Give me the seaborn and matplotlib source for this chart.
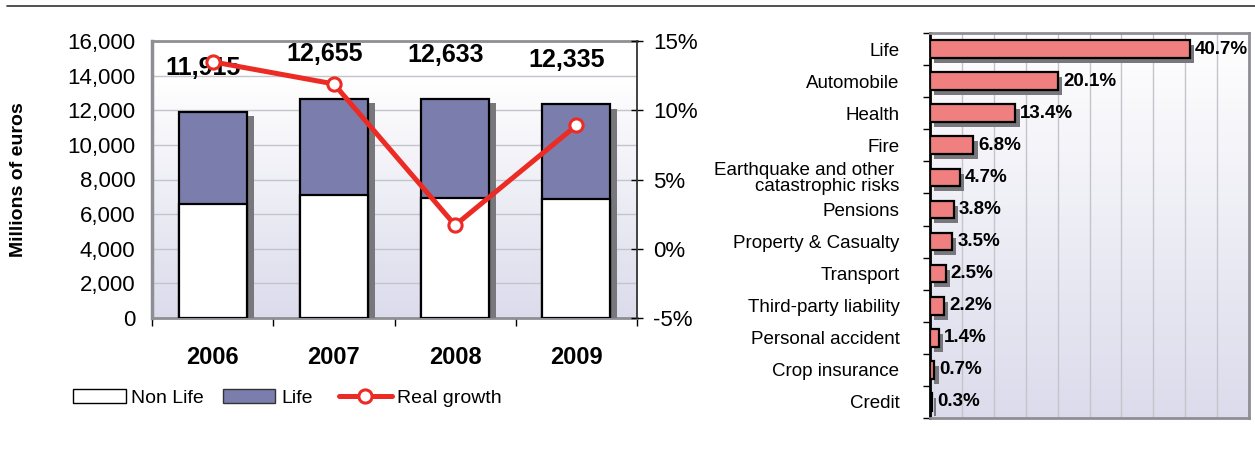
import numpy as np
import pandas as pd
import matplotlib
matplotlib.use("Agg")
import matplotlib.pyplot as plt
import matplotlib.patheffects as pe
from matplotlib.patches import Patch
from matplotlib.lines import Line2D
from matplotlib.ticker import FixedLocator
import seaborn as sns

# ---- data -------------------------------------------------------------
years = ["2006", "2007", "2008", "2009"]
total_premiums = [11915, 12655, 12633, 12335]
non_life_premiums = [6570, 7085, 6950, 6860]
real_growth = [13.5, 11.9, 1.7, 8.9]

business_lines = [
    "Life", "Automobile", "Health", "Fire",
    "Earthquake and other \ncatastrophic risks", "Pensions",
    "Property & Casualty", "Transport", "Third-party liability",
    "Personal accident", "Crop insurance", "Credit",
]
line_shares = [40.7, 20.1, 13.4, 6.8, 4.7, 3.8, 3.5, 2.5, 2.2, 1.4, 0.7, 0.3]

# ---- style ------------------------------------------------------------
sns.set_style("white")
plt.rcParams["font.family"] = ["Liberation Sans", "DejaVu Sans"]
plt.rcParams.update({"text.color": "black", "xtick.color": "black",
                     "ytick.color": "black", "axes.labelcolor": "black"})

LIFE = "#7b7eac"
RED = "#ec2b25"
PINK = "#f08080"
SHADOW = "#78787c"
SPINE_GREY = "#8e8e94"
GRID = "#c4c4cc"

W, H = 1255, 450
fig = plt.figure(figsize=(W / 100, H / 100), dpi=100)


def px_axes(x0, y0, x1, y1, **kw):
    return fig.add_axes([x0 / W, 1 - y1 / H, (x1 - x0) / W, (y1 - y0) / H], **kw)


def gradient_backdrop(x0, y0, x1, y1, white_from):
    """Pale lavender at the bottom fading to white at `white_from` (axes fraction)."""
    bg = px_axes(x0, y0, x1, y1, zorder=-1)
    t = np.linspace(0, 1, 256)
    w = np.clip(t / white_from, 0, 1)[:, None, None]
    lav = np.array([0.86, 0.86, 0.925])[None, None, :]
    img = lav + (1 - lav) * w
    bg.imshow(img, extent=[0, 1, 0, 1], origin="lower", aspect="auto",
              interpolation="bilinear")
    bg.axis("off")
    return bg


# ---- left panel: premiums and real growth ----------------------------
LX0, LY0, LX1, LY1 = 152, 41, 637, 318
gradient_backdrop(LX0, LY0, LX1, LY1, 0.875)
ax = px_axes(LX0, LY0, LX1, LY1)
ax.patch.set_visible(False)

df = pd.DataFrame({"year": years, "total": total_premiums,
                   "non_life": non_life_premiums})

sns.barplot(data=df, x="year", y="total", color=LIFE, saturation=1,
            width=0.56, edgecolor="black", linewidth=1.6, ax=ax, zorder=3)
for p in ax.patches:
    p.set_path_effects([pe.SimplePatchShadow(offset=(5, -3), shadow_rgbFace=SHADOW,
                                             alpha=1.0), pe.Normal()])
sns.barplot(data=df, x="year", y="non_life", color="white", saturation=1,
            width=0.56, edgecolor="black", linewidth=1.6, ax=ax, zorder=4)

ax.set_xlim(-0.5, 3.5)
ax.set_ylim(0, 16000)
ax.set_yticks(np.arange(0, 16001, 2000))
ax.set_yticklabels([f"{v:,}" for v in range(0, 16001, 2000)])
ax.yaxis.grid(True, color=GRID, lw=1)
ax.set_axisbelow(True)
ax.set_xlabel("")
ax.set_ylabel("")
ax.tick_params(axis="y", length=0, pad=12, labelsize=16)
ax.tick_params(axis="x", which="major", length=0, pad=20, labelsize=17)
for lab in ax.get_xticklabels():
    lab.set_fontweight("bold")
ax.xaxis.set_minor_locator(FixedLocator([-0.5, 0.5, 1.5, 2.5, 3.5]))
ax.tick_params(axis="x", which="minor", direction="out", length=6, width=1,
               color="black", bottom=True)
for side, lw in (("left", 2.5), ("top", 2), ("bottom", 2)):
    ax.spines[side].set_color(SPINE_GREY)
    ax.spines[side].set_linewidth(lw)
ax.spines["right"].set_visible(False)

label_y = [14450, 15250, 15200, 14900]
for i, (tot, ly) in enumerate(zip(total_premiums, label_y)):
    ax.text(i - 0.08, ly, f"{tot:,}", ha="center", va="center",
            fontsize=18, fontweight="bold", zorder=6)

ax2 = ax.twinx()
sns.lineplot(x=np.arange(len(years)), y=real_growth, ax=ax2, color=RED, lw=3.6,
             marker="o", markersize=9.5, markerfacecolor="white",
             markeredgecolor=RED, markeredgewidth=2.2, zorder=5)
ax2.set_xlim(-0.5, 3.5)
ax2.set_ylim(-5, 15)
ax2.set_yticks([-5, 0, 5, 10, 15])
ax2.set_yticklabels([f"{v}%" for v in (-5, 0, 5, 10, 15)])
ax2.set_ylabel("")
ax2.tick_params(axis="y", direction="inout", length=9, width=1, color="black",
                pad=7, labelsize=16)
for side in ("left", "top", "bottom"):
    ax2.spines[side].set_visible(False)
ax2.spines["right"].set_color("#333333")
ax2.spines["right"].set_linewidth(1.3)

fig.text(19 / W, 1 - 180 / H, "Millions of euros", rotation=90, ha="center",
         va="center", fontsize=14, fontweight="bold")

legend_kw = dict(loc="center left", frameon=False, fontsize=14,
                 handlelength=2.7, handletextpad=0.3, borderpad=0,
                 borderaxespad=0)
bar_handles = [
    Patch(facecolor="white", edgecolor="black", lw=1),
    Patch(facecolor=LIFE, edgecolor="#333333", lw=1),
]
leg1 = fig.legend(bar_handles, ["Non Life", "Life"], ncol=2, columnspacing=0.95,
                  bbox_to_anchor=(73 / W, 1 - 398 / H), **legend_kw)
growth_handle = Line2D([], [], color=RED, lw=3.6, marker="o", markersize=9.5,
                       markerfacecolor="white", markeredgecolor=RED,
                       markeredgewidth=2.2)
fig.legend([growth_handle], ["Real growth"],
           bbox_to_anchor=(339 / W, 1 - 398 / H), **legend_kw)

# ---- right panel: premium breakdown by line of business --------------
RX0, RY0, RX1, RY1 = 930, 33, 1249, 418
gradient_backdrop(RX0, RY0, RX1, RY1, 1.0)
axr = px_axes(RX0, RY0, RX1, RY1)
axr.patch.set_visible(False)

dfr = pd.DataFrame({"line": business_lines, "share": line_shares})
sns.barplot(data=dfr, x="share", y="line", orient="h", color=PINK,
            saturation=1, width=0.55, edgecolor="black", linewidth=1.6,
            ax=axr, zorder=3)
for p in axr.patches:
    p.set_path_effects([pe.SimplePatchShadow(offset=(3, -3.6), shadow_rgbFace=SHADOW,
                                             alpha=1.0), pe.Normal()])
axr.bar_label(axr.containers[0], labels=[f"{v:.1f}%" for v in line_shares],
              padding=3.5, fontsize=13.5, fontweight="bold", zorder=6)

axr.set_xlim(0, 50)
axr.set_ylim(len(business_lines) - 0.5, -0.5)
axr.set_xticks(np.arange(0, 51, 5))
axr.xaxis.grid(True, color=GRID, lw=1)
axr.set_axisbelow(True)
axr.set_xlabel("")
axr.set_ylabel("")
axr.tick_params(axis="x", length=0, labelbottom=False)
axr.tick_params(axis="y", which="major", length=0, pad=22, labelsize=13.5)
for lab in axr.get_yticklabels():
    lab.set_linespacing(0.9)
axr.yaxis.set_minor_locator(FixedLocator(np.arange(-0.5, len(business_lines), 1.0)))
axr.tick_params(axis="y", which="minor", direction="out", length=5, width=1,
                color="black", left=True)
axr.spines["left"].set_color("black")
axr.spines["left"].set_linewidth(2)
for side in ("right", "top", "bottom"):
    axr.spines[side].set_color(SPINE_GREY)
    axr.spines[side].set_linewidth(2)

fig.add_artist(Line2D([7 / W, 1.0], [1 - 6 / H] * 2, color="#333333", lw=1.2))

fig.savefig("out.png", dpi=100)
